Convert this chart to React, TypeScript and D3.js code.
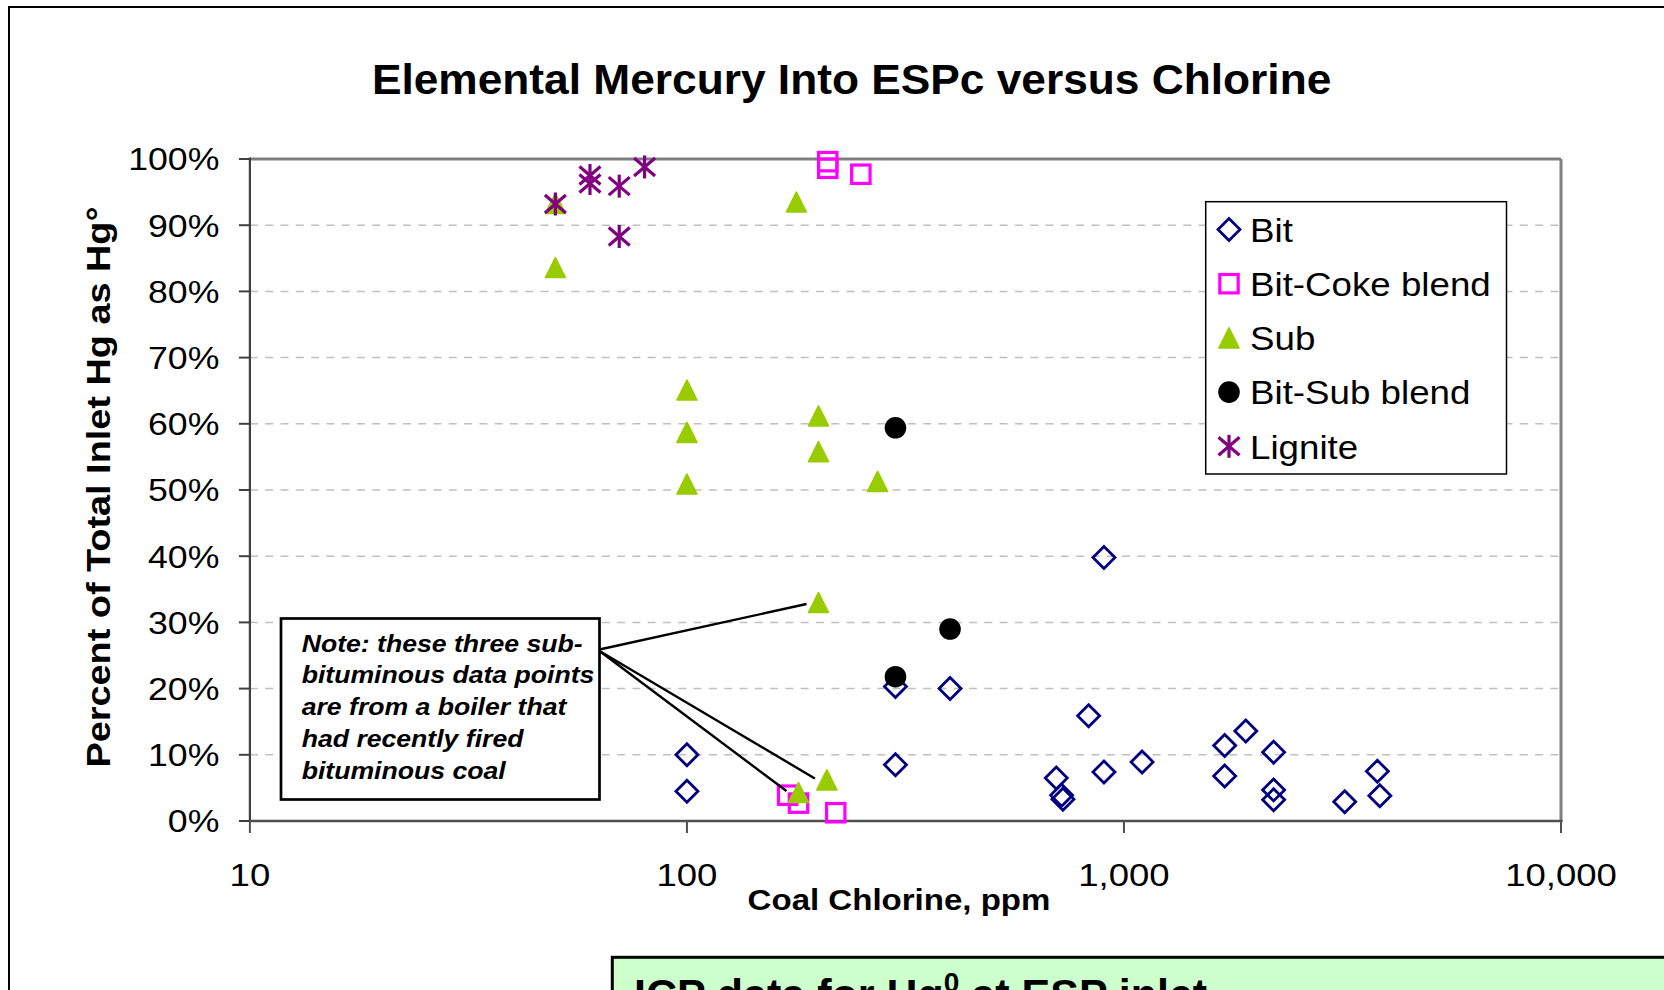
import React from 'react';
import * as d3 from 'd3';

// ---------- DATA ----------
const seriesNames = ['Bit', 'Bit-Coke blend', 'Sub', 'Bit-Sub blend', 'Lignite'];

const bitCl = [100, 100, 300, 300, 400, 700, 720, 725, 830, 900, 900, 1100, 1700, 1700, 1900, 2200, 2200, 2200, 3200, 3800, 3850];
const bitHg = [10.0, 4.5, 20.3, 8.5, 20.0, 6.5, 3.9, 3.3, 15.9, 39.8, 7.4, 8.9, 11.4, 6.8, 13.6, 10.4, 4.7, 3.2, 2.9, 7.5, 3.8];

const cokeCl = [170, 180, 210, 210, 219, 250];
const cokeHg = [3.9, 2.7, 99.6, 98.6, 1.25, 97.7];

const subCl = [50, 50, 100, 100, 100, 178, 180, 200, 200, 200, 209, 273];
const subHg = [93.3, 83.6, 65.1, 58.7, 50.9, 93.5, 4.3, 61.2, 55.8, 33.0, 6.2, 51.3];

const bitSubCl = [300, 300, 400];
const bitSubHg = [59.4, 21.8, 29.0];

const ligCl = [50, 60, 60, 70, 70, 80];
const ligHg = [93.2, 97.5, 96.3, 95.9, 88.3, 98.8];

const xTicks = [10, 100, 1000, 10000];
const yTicks = [0, 10, 20, 30, 40, 50, 60, 70, 80, 90, 100];

const noteLines = [
  'Note: these three sub-',
  'bituminous data points',
  'are from a boiler that',
  'had recently fired',
  'bituminous coal',
];
// the three sub-bituminous points the note points at
const calloutCl = [200, 180, 209];
const calloutHg = [33.0, 4.3, 6.2];

const chartTitle = 'Elemental Mercury Into ESPc versus Chlorine';
const xTitle = 'Coal Chlorine, ppm';
const yTitle = 'Percent of Total Inlet Hg as Hg°';

// ---------- LAYOUT ----------
const W = 1664;
const H = 990;
const P = { left: 249.9, right: 1561, top: 159, bottom: 821 };
const FONT = '"Liberation Sans", Arial, Helvetica, sans-serif';

const x = d3.scaleLog().domain([10, 10000]).range([P.left, P.right]);
const y = d3.scaleLinear().domain([0, 100]).range([P.bottom, P.top]);

const fmtX = d3.format(',');

type Kind = 'bit' | 'coke' | 'sub' | 'bitsub' | 'lig';

function Marker({ kind, cx, cy }: { kind: Kind; cx: number; cy: number }) {
  if (kind === 'bit') {
    const r = 11;
    return (
      <path
        d={`M${cx},${cy - r}L${cx + r},${cy}L${cx},${cy + r}L${cx - r},${cy}Z`}
        fill="none"
        stroke="#000080"
        strokeWidth={2.8}
      />
    );
  }
  if (kind === 'coke') {
    const h = 9.2;
    return (
      <rect x={cx - h} y={cy - h} width={2 * h} height={2 * h} fill="none" stroke="#FF00FF" strokeWidth={3.2} />
    );
  }
  if (kind === 'sub') {
    const r = 10;
    return (
      <path
        d={`M${cx},${cy - r}L${cx + r},${cy + r}L${cx - r},${cy + r}Z`}
        fill="#99CC00"
        stroke="#99CC00"
        strokeWidth={1.6}
        strokeLinejoin="round"
      />
    );
  }
  if (kind === 'bitsub') {
    return <circle cx={cx} cy={cy} r={10.8} fill="#000000" />;
  }
  // lignite star: X plus vertical bar
  return (
    <g stroke="#800080" strokeWidth={3.2} strokeLinecap="butt">
      <line x1={cx} y1={cy - 11.5} x2={cx} y2={cy + 11.5} />
      <line x1={cx - 10.5} y1={cy - 9} x2={cx + 10.5} y2={cy + 9} />
      <line x1={cx - 10.5} y1={cy + 9} x2={cx + 10.5} y2={cy - 9} />
    </g>
  );
}

const seriesList: { kind: Kind; cl: number[]; hg: number[] }[] = [
  { kind: 'bit', cl: bitCl, hg: bitHg },
  { kind: 'coke', cl: cokeCl, hg: cokeHg },
  { kind: 'sub', cl: subCl, hg: subHg },
  { kind: 'bitsub', cl: bitSubCl, hg: bitSubHg },
  { kind: 'lig', cl: ligCl, hg: ligHg },
];

export default function App() {
  const gridTicks = yTicks.filter((t) => t > 0 && t < 100);
  const noteBox = { x: 281, y: 618.5, w: 318.5, h: 181 };
  const legend = { x: 1205.7, y: 201.7, w: 300.8, h: 272.3 };

  return (
    <svg
      width={W}
      height={H}
      viewBox={`0 0 ${W} ${H}`}
      style={{ position: 'absolute', left: 0, top: 0, display: 'block', background: '#fff' }}
      fontFamily={FONT}
    >
      <rect x={0} y={0} width={W} height={H} fill="#fff" />
      {/* outer chart frame */}
      <rect x={9} y={7} width={W + 100} height={H + 100} fill="#fff" stroke="#000" strokeWidth={2} />

      {/* title */}
      <text
        transform={`translate(851.6,94) scale(1.03,1)`}
        textAnchor="middle"
        fontSize={43}
        fontWeight="bold"
        fill="#000"
      >
        {chartTitle}
      </text>

      {/* gridlines */}
      {gridTicks.map((t) => (
        <line
          key={'g' + t}
          x1={P.left}
          x2={P.right}
          y1={y(t)}
          y2={y(t)}
          stroke="#C0C0C0"
          strokeWidth={1.5}
          strokeDasharray="8,7.3"
        />
      ))}

      {/* plot area border (top & right) */}
      <line x1={P.left} x2={P.right} y1={P.top} y2={P.top} stroke="#808080" strokeWidth={3} />
      <line x1={P.right} x2={P.right} y1={P.top} y2={P.bottom} stroke="#808080" strokeWidth={3} />

      {/* axes */}
      <line x1={P.left} x2={P.left} y1={P.top - 1.5} y2={P.bottom} stroke="#404040" strokeWidth={2.2} />
      <line x1={P.left} x2={P.right + 1.5} y1={P.bottom} y2={P.bottom} stroke="#505050" strokeWidth={2.6} />
      {yTicks.map((t) => (
        <line key={'yt' + t} x1={P.left - 11} x2={P.left} y1={y(t)} y2={y(t)} stroke="#404040" strokeWidth={2} />
      ))}
      {xTicks.map((t) => (
        <line key={'xt' + t} x1={x(t)} x2={x(t)} y1={P.bottom} y2={P.bottom + 12} stroke="#505050" strokeWidth={2} />
      ))}

      {/* y tick labels */}
      {yTicks.map((t) => (
        <text
          key={'yl' + t}
          transform={`translate(219.4,${y(t) + 11.4}) scale(1.115,1)`}
          textAnchor="end"
          fontSize={32}
          fill="#000"
        >
          {t + '%'}
        </text>
      ))}

      {/* x tick labels */}
      {xTicks.map((t) => (
        <text
          key={'xl' + t}
          transform={`translate(${x(t)},885.5) scale(1.16,1)`}
          textAnchor="middle"
          fontSize={31.5}
          fill="#000"
        >
          {fmtX(t)}
        </text>
      ))}

      {/* axis titles */}
      <text
        transform={`translate(899,910) scale(1.12,1)`}
        textAnchor="middle"
        fontSize={29.5}
        fontWeight="bold"
        fill="#000"
      >
        {xTitle}
      </text>
      <text
        transform={`translate(110,487) rotate(-90) scale(1.13,1)`}
        textAnchor="middle"
        fontSize={33.5}
        fontWeight="bold"
        fill="#000"
      >
        {yTitle}
      </text>

      {/* data */}
      {seriesList.map((s) => (
        <g key={s.kind}>
          {s.cl.map((c, i) => (
            <Marker key={i} kind={s.kind} cx={x(c)} cy={y(s.hg[i])} />
          ))}
        </g>
      ))}

      {/* callout lines */}
      {calloutCl.map((c, i) => (
        <line
          key={'cl' + i}
          x1={noteBox.x + noteBox.w}
          y1={noteBox.y + 31 + (i === 0 ? 0 : 1.5)}
          x2={x(c) - 12}
          y2={y(calloutHg[i]) + (i === 0 ? 1.5 : -1.5)}
          stroke="#000"
          strokeWidth={2.4}
        />
      ))}

      {/* note box */}
      <rect x={noteBox.x} y={noteBox.y} width={noteBox.w} height={noteBox.h} fill="#fff" stroke="#000" strokeWidth={2.7} />
      {noteLines.map((ln, i) => (
        <text
          key={'n' + i}
          transform={`translate(301.7,${651.7 + i * 31.7}) scale(1.1,1)`}
          fontSize={24.2}
          fontWeight="bold"
          fontStyle="italic"
          fill="#000"
        >
          {ln}
        </text>
      ))}

      {/* legend */}
      <rect x={legend.x} y={legend.y} width={legend.w} height={legend.h} fill="#fff" stroke="#000" strokeWidth={1.5} />
      {seriesList.map((s, i) => {
        const cy = 229.5 + i * 54.2;
        return (
          <g key={'lg' + i}>
            <Marker kind={s.kind} cx={1229} cy={cy} />
            <text
              transform={`translate(1250,${cy + 12.2}) scale(1.08,1)`}
              fontSize={34}
              fill="#000"
            >
              {seriesNames[i]}
            </text>
          </g>
        );
      })}

      {/* green ICP box at bottom */}
      <rect x={612.3} y={957.3} width={1200} height={200} fill="#CCFFCC" stroke="#000" strokeWidth={3} />
      <text transform="translate(634,1008.5)" fontSize={43} fontWeight="bold" fill="#000">
        ICP data for Hg
        <tspan fontSize={28} dy={-17}>0</tspan>
        <tspan dy={17}> at ESP inlet</tspan>
      </text>
    </svg>
  );
}
